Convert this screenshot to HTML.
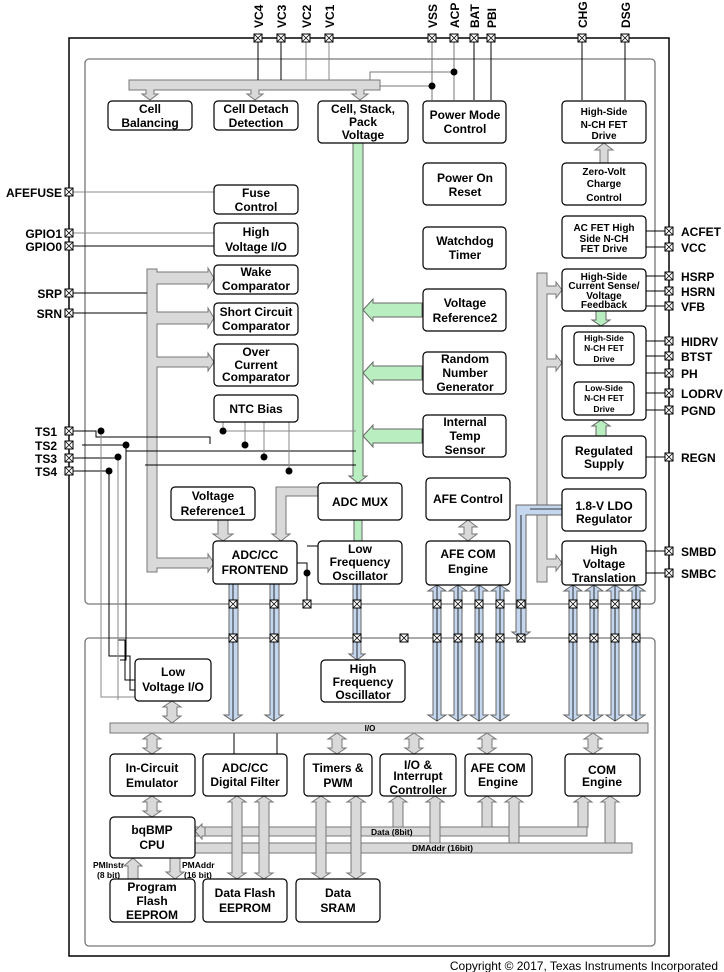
<!DOCTYPE html>
<html><head><meta charset="utf-8"><style>
body{margin:0;background:#fff}
svg{display:block}
text{font-family:"Liberation Sans",sans-serif;font-weight:bold;fill:#000}
</style></head><body>
<svg width="724" height="972" viewBox="0 0 724 972" xmlns="http://www.w3.org/2000/svg">
<defs>
<g id="pin"><rect x="-4" y="-4" width="8" height="8" fill="#fff" stroke="#000" stroke-width="1"/><path d="M-4-4L4 4M4-4L-4 4" stroke="#000" stroke-width="0.8"/></g>
</defs>
<rect x="69" y="38" width="600" height="918" fill="none" stroke="#000" stroke-width="1.5"/>
<rect x="85" y="59" width="570" height="545" rx="4" fill="none" stroke="#777" stroke-width="1.3"/>
<rect x="85" y="638" width="570" height="308" rx="4" fill="none" stroke="#777" stroke-width="1.3"/>

<g fill="#d9d9d9" stroke="#777" stroke-width="1">
<polygon points="129,80 380,80 380,90 364,90 364,94 368,94 360,100 352,94 356,94 356,90 259,90 259,94 263,94 255,100 247,94 251,94 251,90 154,90 154,94 158,94 150,100 142,94 146,94 146,90 129,90"/>
</g>
<g stroke="#000" stroke-width="1" fill="none">
<path d="M258 38V80M281 38V80"/>
<path d="M306 38V80M329 38V80" stroke="#888"/>
<path d="M380 86H432M370 80V72H454" stroke="#777"/>
<path d="M432 38V100" stroke="#777"/><path d="M454 38V100" stroke="#777"/>
<path d="M474 38V100M491 38V100"/>
<path d="M582 38V100M625 38V100"/>
</g>
<circle cx="432" cy="86" r="3.5"/><circle cx="454" cy="72" r="3.5"/>

<g fill="#b9efc0" stroke="#666" stroke-width="1">
<polygon points="353,142 363,142 363,476 367,476 358,483 349,476 353,476"/>
<polygon points="354,520 362,520 362,541 354,541"/>
<polygon points="422,303 373,303 373,299 363,310 373,321 373,317 422,317"/>
<polygon points="422,366 373,366 373,362 363,373 373,384 373,380 422,380"/>
<polygon points="422,429 373,429 373,425 363,436 373,447 373,443 422,443"/>
<polygon points="596,311 606,311 606,320 610,320 601,326 592,320 596,320"/>
<polygon points="596,436 606,436 606,426 610,426 601,420 592,426 596,426"/>
</g>

<g fill="#d9d9d9" stroke="#777" stroke-width="1">
<polygon points="147,269 157,269 157,272 208,272 208,268 214,278 208,288 208,284 157,284 157,312 208,312 208,308 214,318 208,328 208,324 157,324 157,357 208,357 208,353 214,362 208,371 208,367 157,367 157,558 208,558 208,554 214,563 208,572 208,568 157,568 157,572 147,572"/>
<polygon points="537,273 547,273 547,286 556,286 556,282 562,290 556,298 556,294 547,294 547,359 556,359 556,355 562,363 556,371 556,367 547,367 547,559 556,559 556,555 562,563 556,571 556,567 547,567 547,582 537,582"/>
<polygon points="600,163 608,163 608,150 613,150 604,143 595,150 600,150"/>
<polygon points="218,520 228,520 228,534 233,534 223,541 213,534 218,534"/>
<polygon points="318,487 276,487 276,534 272,534 281,541 290,534 286,534 286,496 318,496"/>
<polygon points="464,527 464,534 459,534 468,541 477,534 472,534 472,527 477,527 468,520 459,527"/>
</g>

<g fill="#c5d7ee" stroke="#666" stroke-width="1">
<polygon points="229,584 238,584 238,715 242,715 233,721 224,715 229,715"/>
<polygon points="270,584 279,584 279,715 283,715 274,721 265,715 270,715"/>
<polygon points="353,584 361,584 361,654 365,654 357,660 349,654 353,654"/>
<polygon points="516,505 562,505 562,515 526,515 526,632 530,632 521,639 512,632 516,632"/>
</g>
<g fill="#c5d7ee" stroke="#666" stroke-width="1">
<polygon points="433,591 428,591 437,585 446,591 441,591 441,715 446,715 437,721 428,715 433,715"/>
<polygon points="454,591 449,591 458,585 467,591 462,591 462,715 467,715 458,721 449,715 454,715"/>
<polygon points="475,591 470,591 479,585 488,591 483,591 483,715 488,715 479,721 470,715 475,715"/>
<polygon points="496,591 491,591 500,585 509,591 504,591 504,715 509,715 500,721 491,715 496,715"/>
<polygon points="569,591 564,591 573,585 582,591 577,591 577,715 582,715 573,721 564,715 569,715"/>
<polygon points="590,591 585,591 594,585 603,591 598,591 598,715 603,715 594,721 585,715 590,715"/>
<polygon points="611,591 606,591 615,585 624,591 619,591 619,715 624,715 615,721 606,715 611,715"/>
<polygon points="632,591 627,591 636,585 645,591 640,591 640,715 645,715 636,721 627,715 632,715"/>
</g>
<g stroke="#000" stroke-width="0.8">
<path d="M233 584V721M274 584V721M357 584V660M437 585V721M458 585V721M479 585V721M500 585V721M573 585V721M594 585V721M615 585V721M636 585V721M521 515V638M530 509H562"/>
</g>

<g stroke="#888" stroke-width="1" fill="none">
<path d="M69 192H214M69 233H214"/>
</g>
<g stroke="#000" stroke-width="1" fill="none">
<path d="M69 246H214M69 293H147M69 313H147"/>
<path d="M69 431H96V437H210V444"/>
<path d="M69 471H109V656H130V690H135" />
<path d="M69 458H118"/>
<path d="M118 458V640H125V680H135"/>
<path d="M82 445H126V660H120"/>
<path d="M126 451H356M145 465H356"/>
<path d="M101 431V697H135" stroke="#888"/>
<path d="M118 458V700" stroke="#888"/>
<path d="M223 422V431H356" stroke="#888"/>
<path d="M245 422V445M264 422V457M289 422V471" stroke="#888"/>
<path d="M297 563H307V604M307 546H318"/>
<path d="M646 231H669M646 247H669M646 276H669M646 291H669M646 306H669M634 341H669M634 356H669M646 373H669M634 393H669M634 410H669M646 457H669M646 551H669M646 573H669"/>
</g>
<g>
<circle cx="101" cy="431" r="3.5"/><circle cx="126" cy="445" r="3.5"/><circle cx="118" cy="457" r="3.5"/><circle cx="109" cy="471" r="3.5"/>
<circle cx="223" cy="431" r="3.5"/><circle cx="245" cy="445" r="3.5"/><circle cx="264" cy="457" r="3.5"/><circle cx="289" cy="471" r="3.5"/><circle cx="307" cy="573" r="3.5"/>
</g>

<g>
<use href="#pin" x="258" y="38"/><use href="#pin" x="281" y="38"/><use href="#pin" x="306" y="38"/><use href="#pin" x="329" y="38"/>
<use href="#pin" x="432" y="38"/><use href="#pin" x="454" y="38"/><use href="#pin" x="474" y="38"/><use href="#pin" x="491" y="38"/>
<use href="#pin" x="582" y="38"/><use href="#pin" x="625" y="38"/>
<use href="#pin" x="69" y="192"/><use href="#pin" x="69" y="233"/><use href="#pin" x="69" y="246"/><use href="#pin" x="69" y="293"/><use href="#pin" x="69" y="313"/>
<use href="#pin" x="69" y="431"/><use href="#pin" x="69" y="445"/><use href="#pin" x="69" y="458"/><use href="#pin" x="69" y="471"/>
<use href="#pin" x="669" y="231"/><use href="#pin" x="669" y="247"/><use href="#pin" x="669" y="276"/><use href="#pin" x="669" y="291"/><use href="#pin" x="669" y="306"/>
<use href="#pin" x="669" y="341"/><use href="#pin" x="669" y="356"/><use href="#pin" x="669" y="373"/><use href="#pin" x="669" y="393"/><use href="#pin" x="669" y="410"/>
<use href="#pin" x="669" y="457"/><use href="#pin" x="669" y="551"/><use href="#pin" x="669" y="573"/>
<use href="#pin" x="233" y="604"/><use href="#pin" x="274" y="604"/><use href="#pin" x="307" y="604"/><use href="#pin" x="357" y="604"/>
<use href="#pin" x="437" y="604"/><use href="#pin" x="458" y="604"/><use href="#pin" x="479" y="604"/><use href="#pin" x="500" y="604"/><use href="#pin" x="521" y="604"/>
<use href="#pin" x="573" y="604"/><use href="#pin" x="594" y="604"/><use href="#pin" x="615" y="604"/><use href="#pin" x="636" y="604"/>
<use href="#pin" x="233" y="638"/><use href="#pin" x="274" y="638"/><use href="#pin" x="357" y="638"/><use href="#pin" x="404" y="638"/>
<use href="#pin" x="437" y="638"/><use href="#pin" x="458" y="638"/><use href="#pin" x="479" y="638"/><use href="#pin" x="500" y="638"/><use href="#pin" x="521" y="638"/>
<use href="#pin" x="573" y="638"/><use href="#pin" x="594" y="638"/><use href="#pin" x="615" y="638"/><use href="#pin" x="636" y="638"/>
</g>

<g font-size="12">
<text transform="translate(263,28) rotate(-90)">VC4</text>
<text transform="translate(286,28) rotate(-90)">VC3</text>
<text transform="translate(311,28) rotate(-90)">VC2</text>
<text transform="translate(334,28) rotate(-90)">VC1</text>
<text transform="translate(437,28) rotate(-90)">VSS</text>
<text transform="translate(459,28) rotate(-90)">ACP</text>
<text transform="translate(479,28) rotate(-90)">BAT</text>
<text transform="translate(496,28) rotate(-90)">PBI</text>
<text transform="translate(587,28) rotate(-90)">CHG</text>
<text transform="translate(630,28) rotate(-90)">DSG</text>
<g text-anchor="end">
<text x="62" y="197">AFEFUSE</text><text x="62" y="238">GPIO1</text><text x="62" y="251">GPIO0</text>
<text x="62" y="298">SRP</text><text x="62" y="318">SRN</text>
<text x="57" y="436">TS1</text><text x="57" y="450">TS2</text><text x="57" y="463">TS3</text><text x="57" y="476">TS4</text>
</g>
<text x="681" y="236">ACFET</text><text x="681" y="252">VCC</text><text x="681" y="281">HSRP</text><text x="681" y="296">HSRN</text><text x="681" y="311">VFB</text>
<text x="681" y="346">HIDRV</text><text x="681" y="361">BTST</text><text x="681" y="378">PH</text><text x="681" y="398">LODRV</text><text x="681" y="415">PGND</text>
<text x="681" y="462">REGN</text><text x="681" y="556">SMBD</text><text x="681" y="578">SMBC</text>
</g>

<g fill="#fff" stroke="#000" stroke-width="1.2">
<rect x="108" y="101" width="84" height="29" rx="4"/>
<rect x="214" y="101" width="84" height="29" rx="4"/>
<rect x="318" y="101" width="90" height="42" rx="4"/>
<rect x="423" y="101" width="83" height="42" rx="4"/>
<rect x="423" y="163" width="83" height="42" rx="4"/>
<rect x="423" y="227" width="83" height="42" rx="4"/>
<rect x="423" y="289" width="83" height="42" rx="4"/>
<rect x="423" y="352" width="83" height="42" rx="4"/>
<rect x="423" y="415" width="83" height="42" rx="4"/>
<rect x="562" y="101" width="84" height="42" rx="4"/>
<rect x="562" y="163" width="84" height="42" rx="4"/>
<rect x="562" y="216" width="84" height="42" rx="4"/>
<rect x="562" y="269" width="84" height="42" rx="4"/>
<rect x="562" y="326" width="84" height="94" rx="4"/>
<rect x="574" y="332" width="60" height="33" rx="4"/>
<rect x="574" y="382" width="60" height="33" rx="4"/>
<rect x="562" y="436" width="84" height="42" rx="4"/>
<rect x="562" y="489" width="84" height="42" rx="4"/>
<rect x="562" y="541" width="84" height="44" rx="4"/>
<rect x="214" y="185" width="84" height="29" rx="4"/>
<rect x="214" y="223" width="84" height="33" rx="4"/>
<rect x="214" y="265" width="84" height="29" rx="4"/>
<rect x="214" y="303" width="84" height="32" rx="4"/>
<rect x="214" y="344" width="84" height="42" rx="4"/>
<rect x="214" y="395" width="84" height="27" rx="4"/>
<rect x="171" y="487" width="84" height="33" rx="4"/>
<rect x="213" y="541" width="84" height="43" rx="4"/>
<rect x="318" y="483" width="84" height="37" rx="4"/>
<rect x="318" y="541" width="84" height="43" rx="4"/>
<rect x="426" y="478" width="84" height="42" rx="4"/>
<rect x="426" y="541" width="84" height="44" rx="4"/>
</g>
<g font-size="12" text-anchor="middle">
<text x="150" y="113">Cell</text><text x="150" y="127">Balancing</text>
<text x="256" y="113">Cell Detach</text><text x="256" y="127">Detection</text>
<text x="363" y="113">Cell, Stack,</text><text x="363" y="126">Pack</text><text x="363" y="139">Voltage</text>
<text x="465" y="119">Power Mode</text><text x="465" y="133">Control</text>
<text x="465" y="182">Power On</text><text x="465" y="196">Reset</text>
<text x="465" y="245">Watchdog</text><text x="465" y="259">Timer</text>
<text x="465" y="307">Voltage</text><text x="465" y="322">Reference2</text>
<text x="465" y="363">Random</text><text x="465" y="377">Number</text><text x="465" y="391">Generator</text>
<text x="465" y="426">Internal</text><text x="465" y="440">Temp</text><text x="465" y="454">Sensor</text>
<text x="256" y="197">Fuse</text><text x="256" y="211">Control</text>
<text x="256" y="236">High</text><text x="256" y="251">Voltage I/O</text>
<text x="256" y="276">Wake</text><text x="256" y="290">Comparator</text>
<text x="256" y="316">Short Circuit</text><text x="256" y="330">Comparator</text>
<text x="256" y="356">Over</text><text x="256" y="369">Current</text><text x="256" y="381">Comparator</text>
<text x="256" y="413">NTC Bias</text>
<text x="213" y="500">Voltage</text><text x="213" y="515">Reference1</text>
<text x="255" y="559">ADC/CC</text><text x="255" y="574">FRONTEND</text>
<text x="360" y="506">ADC MUX</text>
<text x="360" y="553">Low</text><text x="360" y="566">Frequency</text><text x="360" y="580">Oscillator</text>
<text x="468" y="503">AFE Control</text>
<text x="468" y="558">AFE COM</text><text x="468" y="573">Engine</text>
<text x="604" y="510">1.8-V LDO</text><text x="604" y="523">Regulator</text>
<text x="604" y="554">High</text><text x="604" y="568">Voltage</text><text x="604" y="582">Translation</text>
<text x="604" y="455">Regulated</text><text x="604" y="468">Supply</text>
</g>
<g font-size="10" text-anchor="middle">
<text x="604" y="115">High-Side</text><text x="604" y="128">N-CH FET</text><text x="604" y="139">Drive</text>
<text x="604" y="175">Zero-Volt</text><text x="604" y="187">Charge</text><text x="604" y="201">Control</text>
<text x="604" y="231">AC FET High</text><text x="604" y="242">Side  N-CH</text><text x="604" y="252">FET Drive</text>
<text x="604" y="280">High-Side</text><text x="604" y="289">Current  Sense/</text><text x="604" y="299">Voltage</text><text x="604" y="308">Feedback</text>
</g>
<g font-size="8.5" text-anchor="middle">
<text x="604" y="341">High-Side</text><text x="604" y="351">N-CH FET</text><text x="604" y="362">Drive</text>
<text x="604" y="391">Low-Side</text><text x="604" y="401">N-CH FET</text><text x="604" y="412">Drive</text>
</g>

<g stroke="#000" stroke-width="1" fill="none">
<path d="M234 733V754M277 733V754" />
</g>
<rect x="110" y="723" width="538" height="10" fill="#d9d9d9" stroke="#777"/>
<text x="370" y="731" font-size="8" text-anchor="middle">I/O</text>
<g fill="#d9d9d9" stroke="#777" stroke-width="1">
<rect x="195" y="827" width="392" height="9"/>
<rect x="195" y="843" width="437" height="10"/>
</g>
<g fill="#d9d9d9" stroke="#777" stroke-width="1">
<polygon points="172,701 181,707 177,707 177,716 181,716 172,723 163,716 167,716 167,707 163,707"/>
<polygon points="152,733 161,739 157,739 157,748 161,748 152,754 143,748 147,748 147,739 143,739"/>
<polygon points="337,733 346,739 342,739 342,748 346,748 337,754 328,748 332,748 332,739 328,739"/>
<polygon points="414,733 423,739 419,739 419,748 423,748 414,754 405,748 409,748 409,739 405,739"/>
<polygon points="487,733 496,739 492,739 492,748 496,748 487,754 478,748 482,748 482,739 478,739"/>
<polygon points="593,733 602,739 598,739 598,748 602,748 593,754 584,748 588,748 588,739 584,739"/>
<polygon points="152,796 161,802 157,802 157,811 161,811 152,817 143,811 147,811 147,802 143,802"/>
<polygon points="237,796 246,802 242,802 242,873 246,873 237,879 228,873 232,873 232,802 228,802"/>
<polygon points="264,796 273,802 269,802 269,873 273,873 264,879 255,873 259,873 259,802 255,802"/>
<polygon points="321,796 330,802 326,802 326,873 330,873 321,879 312,873 316,873 316,802 312,802"/>
<polygon points="356,796 365,802 361,802 361,873 365,873 356,879 347,873 351,873 351,802 347,802"/>
<polygon points="398,796 407,802 403,802 403,827 393,827 393,802 389,802"/>
<polygon points="435,796 444,802 440,802 440,843 430,843 430,802 426,802"/>
<polygon points="487,796 496,802 492,802 492,827 482,827 482,802 478,802"/>
<polygon points="514,796 523,802 519,802 519,843 509,843 509,802 505,802"/>
<polygon points="583,796 592,802 588,802 588,827 578,827 578,802 574,802"/>
<polygon points="610,796 619,802 615,802 615,843 605,843 605,802 601,802"/>
<polygon points="195,831 202,824 202,827 205,827 205,836 202,836 202,839"/>
<polygon points="128,879 128,866 124,866 133,858 142,866 138,866 138,879"/>
<polygon points="170,858 180,858 180,872 184,872 175,879 166,872 170,872"/>
</g>
<g fill="#fff" stroke="#000" stroke-width="1.2">
<rect x="135" y="659" width="76" height="42" rx="4"/>
<rect x="321" y="660" width="84" height="42" rx="4"/>
<rect x="110" y="754" width="85" height="42" rx="4"/>
<rect x="203" y="754" width="84" height="42" rx="4"/>
<rect x="304" y="754" width="68" height="42" rx="4"/>
<rect x="380" y="754" width="76" height="42" rx="4"/>
<rect x="465" y="754" width="67" height="42" rx="4"/>
<rect x="565" y="754" width="75" height="42" rx="4"/>
<rect x="110" y="817" width="85" height="41" rx="4"/>
<rect x="110" y="879" width="85" height="43" rx="4"/>
<rect x="203" y="879" width="84" height="43" rx="4"/>
<rect x="296" y="879" width="84" height="43" rx="4"/>
</g>
<g font-size="12" text-anchor="middle">
<text x="173" y="676">Low</text><text x="173" y="691">Voltage I/O</text>
<text x="363" y="673">High</text><text x="363" y="686">Frequency</text><text x="363" y="699">Oscillator</text>
<text x="152" y="772">In-Circuit</text><text x="152" y="787">Emulator</text>
<text x="245" y="772">ADC/CC</text><text x="245" y="786">Digital Filter</text>
<text x="338" y="772">Timers &amp;</text><text x="338" y="787">PWM</text>
<text x="418" y="769">I/O &amp;</text><text x="418" y="780">Interrupt</text><text x="418" y="794">Controller</text>
<text x="498" y="772">AFE COM</text><text x="498" y="786">Engine</text>
<text x="602" y="774">COM</text><text x="602" y="786">Engine</text>
<text x="152" y="834">bqBMP</text><text x="152" y="849">CPU</text>
<text x="152" y="891">Program</text><text x="152" y="905">Flash</text><text x="152" y="919">EEPROM</text>
<text x="245" y="897">Data Flash</text><text x="245" y="912">EEPROM</text>
<text x="338" y="897">Data</text><text x="338" y="912">SRAM</text>
</g>
<g font-size="8.5">
<text x="371" y="835">Data (8bit)</text>
<text x="412" y="851">DMAddr (16bit)</text>
<text x="93" y="868">PMInstr</text><text x="97" y="878">(8 bit)</text>
<text x="182" y="868">PMAddr</text><text x="184" y="878">(16 bit)</text>
</g>
<text x="718" y="970" font-size="12" text-anchor="end" style="font-weight:normal">Copyright © 2017, Texas Instruments Incorporated</text>
</svg>
</body></html>
